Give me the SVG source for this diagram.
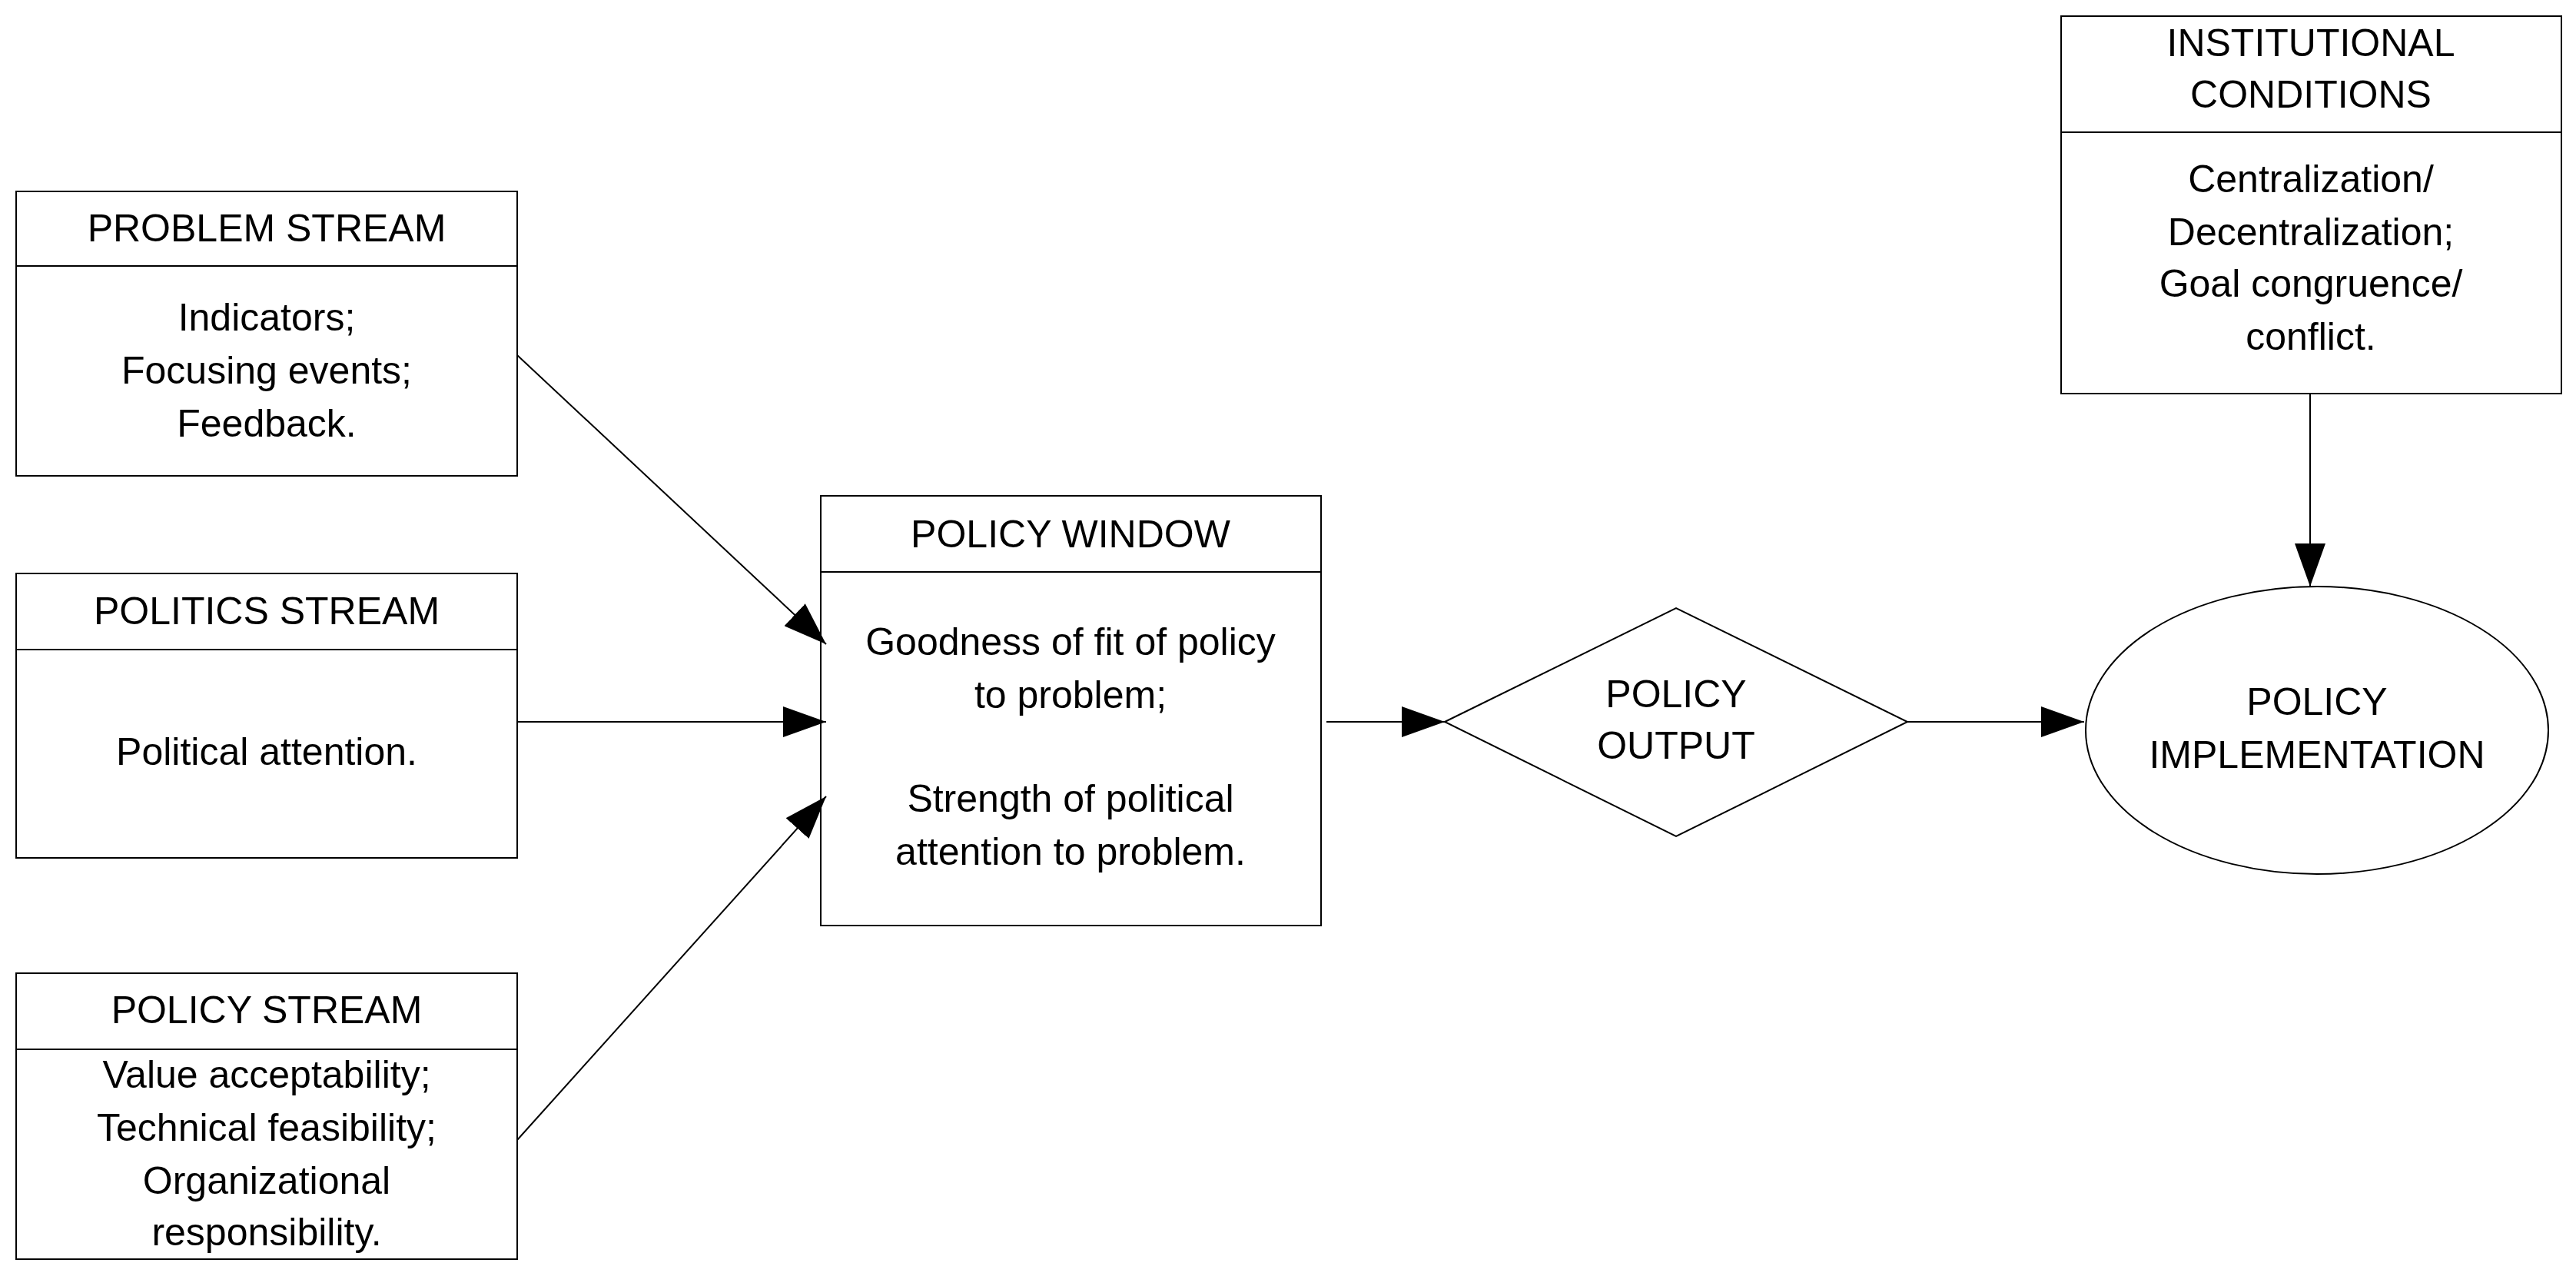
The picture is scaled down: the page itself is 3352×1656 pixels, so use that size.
<svg xmlns="http://www.w3.org/2000/svg" width="3352" height="1656" viewBox="0 0 3352 1656">
<style>
.b{fill:#fff;stroke:#000;stroke-width:2}
.l{stroke:#000;stroke-width:2;fill:none}
text{font-family:"Liberation Sans",Arial,sans-serif;font-size:50px;text-anchor:middle;fill:#000}
.c line{stroke:#000;stroke-width:2;marker-end:url(#a)}
</style>
<defs><marker id="a" markerUnits="userSpaceOnUse" markerWidth="56" markerHeight="40" refX="56" refY="20" orient="auto"><path d="M0,0L56,20L0,40Z" fill="#000"/></marker></defs>
<rect width="3352" height="1656" fill="#fff"/>
<g id="problem"><rect class="b" x="21" y="249" width="652" height="370"/><line class="l" x1="21" y1="346" x2="673" y2="346"/>
<text x="347" y="314">PROBLEM STREAM</text><text x="347" y="430">Indicators;</text><text x="347" y="499">Focusing events;</text><text x="347" y="568">Feedback.</text></g>
<g id="politics"><rect class="b" x="21" y="746" width="652" height="370"/><line class="l" x1="21" y1="845" x2="673" y2="845"/>
<text x="347" y="812">POLITICS STREAM</text><text x="347" y="995">Political attention.</text></g>
<g id="policy"><rect class="b" x="21" y="1266" width="652" height="372"/><line class="l" x1="21" y1="1365" x2="673" y2="1365"/>
<text x="347" y="1331">POLICY STREAM</text><text x="347" y="1415">Value acceptability;</text><text x="347" y="1484">Technical feasibility;</text><text x="347" y="1553">Organizational</text><text x="347" y="1620">responsibility.</text></g>
<g id="window"><rect class="b" x="1068" y="645" width="651" height="559"/><line class="l" x1="1068" y1="744" x2="1719" y2="744"/>
<text x="1393" y="712">POLICY WINDOW</text><text x="1393" y="852">Goodness of fit of policy</text><text x="1393" y="921">to problem;</text><text x="1393" y="1056">Strength of political</text><text x="1393" y="1125">attention to problem.</text></g>
<g id="output"><polygon class="b" points="1880,939 2181,791 2482,939 2181,1088"/><text x="2181" y="920">POLICY</text><text x="2181" y="987">OUTPUT</text></g>
<g id="implementation"><ellipse class="b" cx="3015" cy="950" rx="301" ry="187"/><text x="3015" y="930">POLICY</text><text x="3015" y="999">IMPLEMENTATION</text></g>
<g id="institutional"><rect class="b" x="2682" y="21" width="651" height="491"/><line class="l" x1="2682" y1="172" x2="3333" y2="172"/>
<text x="3007" y="73">INSTITUTIONAL</text><text x="3007" y="140">CONDITIONS</text><text x="3007" y="250">Centralization/</text><text x="3007" y="319">Decentralization;</text><text x="3007" y="386">Goal congruence/</text><text x="3007" y="455">conflict.</text></g>
<g id="connectors" class="c">
<line x1="673" y1="462" x2="1075" y2="838"/>
<line x1="673" y1="939" x2="1075" y2="939"/>
<line x1="673" y1="1483" x2="1075" y2="1036"/>
<line x1="1726" y1="939" x2="1880" y2="939"/>
<line x1="2482" y1="939" x2="2712" y2="939"/>
<line x1="3006" y1="512" x2="3006" y2="763"/>
</g>
</svg>
